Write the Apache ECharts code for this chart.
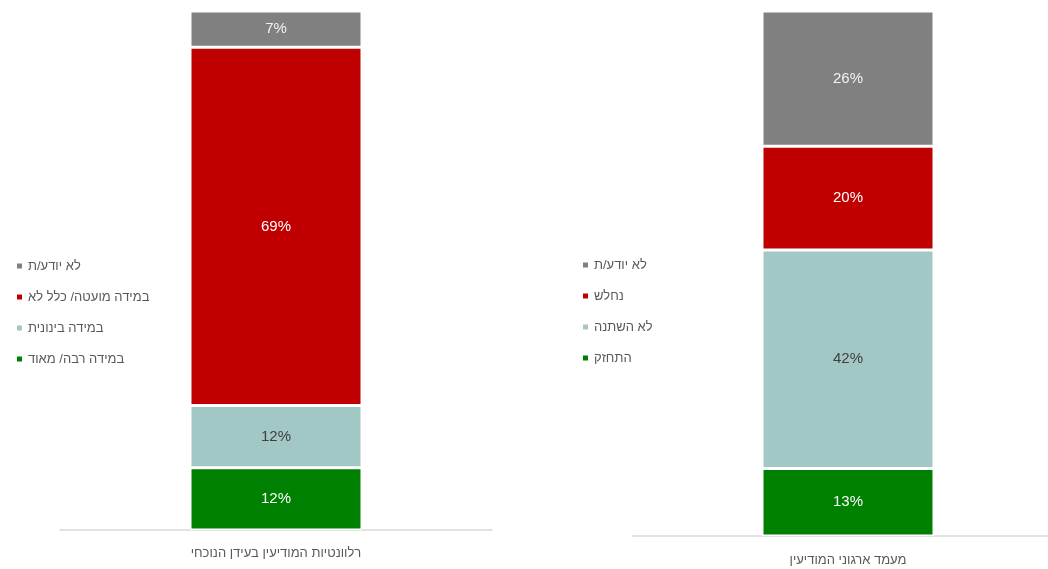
<!DOCTYPE html>
<html>
<head>
<meta charset="utf-8">
<script src="https://cdn.jsdelivr.net/npm/echarts@6/dist/echarts.min.js"></script>
<style>
html,body{margin:0;padding:0;background:#fff;}
#chart{width:1048px;height:569px;}
</style>
</head>
<body>
<div id="chart"></div>
<script>
// Left panel
const leftCategory = ['רלוונטיות המודיעין בעידן הנוכחי'];
const leftNames = ['במידה רבה/ מאוד', 'במידה בינונית', 'במידה מועטה/ כלל לא', 'לא יודע/ת'];
const leftValues = [12, 12, 69, 7];
// Right panel
const rightCategory = ['מעמד ארגוני המודיעין'];
const rightNames = ['התחזק', 'לא השתנה', 'נחלש', 'לא יודע/ת'];
const rightValues = [13, 42, 20, 26];

const colors = ['#008000', '#a2c8c5', '#c00000', '#808080'];
const labelColors = ['#ffffff', '#404040', '#ffffff', '#f2f2f2'];
const FONT = "'Liberation Sans Narrow', 'Liberation Sans', Arial, sans-serif";

function makeSeries(names, values, idx) {
  return names.map((n, i) => ({
    name: n,
    type: 'bar',
    stack: 's' + idx,
    xAxisIndex: idx,
    yAxisIndex: idx,
    barWidth: 172,
    data: [values[i]],
    itemStyle: { color: colors[i], borderColor: '#ffffff', borderWidth: 1.5 },
    label: {
      show: true,
      position: 'inside',
      formatter: '{c}%',
      color: labelColors[i],
      fontFamily: FONT,
      fontSize: 15
    },
    emphasis: { disabled: true }
  }));
}

const sumL = leftValues.reduce((a, b) => a + b, 0);
const sumR = rightValues.reduce((a, b) => a + b, 0);

const chart = echarts.init(document.getElementById('chart'));
chart.setOption({
  animation: false,
  backgroundColor: '#ffffff',
  textStyle: { fontFamily: FONT },
  grid: [
    { left: 60, width: 432, top: 11, bottom: 39, outerBoundsMode: 'none', containLabel: false },
    { left: 632, width: 432, top: 11, bottom: 33, outerBoundsMode: 'none', containLabel: false }
  ],
  xAxis: [
    { type: 'category', gridIndex: 0, data: leftCategory,
      axisLine: { lineStyle: { color: '#d9d9d9', width: 1.5 } }, axisTick: { show: false },
      axisLabel: { color: '#595959', fontSize: 13, fontFamily: FONT, margin: 17 } },
    { type: 'category', gridIndex: 1, data: rightCategory,
      axisLine: { lineStyle: { color: '#d9d9d9', width: 1.5 } }, axisTick: { show: false },
      axisLabel: { color: '#595959', fontSize: 13, fontFamily: FONT, margin: 18 } }
  ],
  yAxis: [
    { type: 'value', gridIndex: 0, min: 0, max: sumL, show: false, splitLine: { show: false } },
    { type: 'value', gridIndex: 1, min: 0, max: sumR, show: false, splitLine: { show: false } }
  ],
  legend: [
    { orient: 'vertical', left: 15, top: 259, padding: 0, itemWidth: 7, itemHeight: 7, itemGap: 17, icon: 'rect',
      data: leftNames.slice().reverse(), selectedMode: false,
      textStyle: { color: '#595959', fontSize: 13, fontFamily: FONT, lineHeight: 14 } },
    { orient: 'vertical', left: 581, top: 258, padding: 0, itemWidth: 7, itemHeight: 7, itemGap: 17, icon: 'rect',
      data: rightNames.slice().reverse(), selectedMode: false,
      textStyle: { color: '#595959', fontSize: 13, fontFamily: FONT, lineHeight: 14 } }
  ],
  series: makeSeries(leftNames, leftValues, 0).concat(makeSeries(rightNames, rightValues, 1))
});
</script>
</body>
</html>
